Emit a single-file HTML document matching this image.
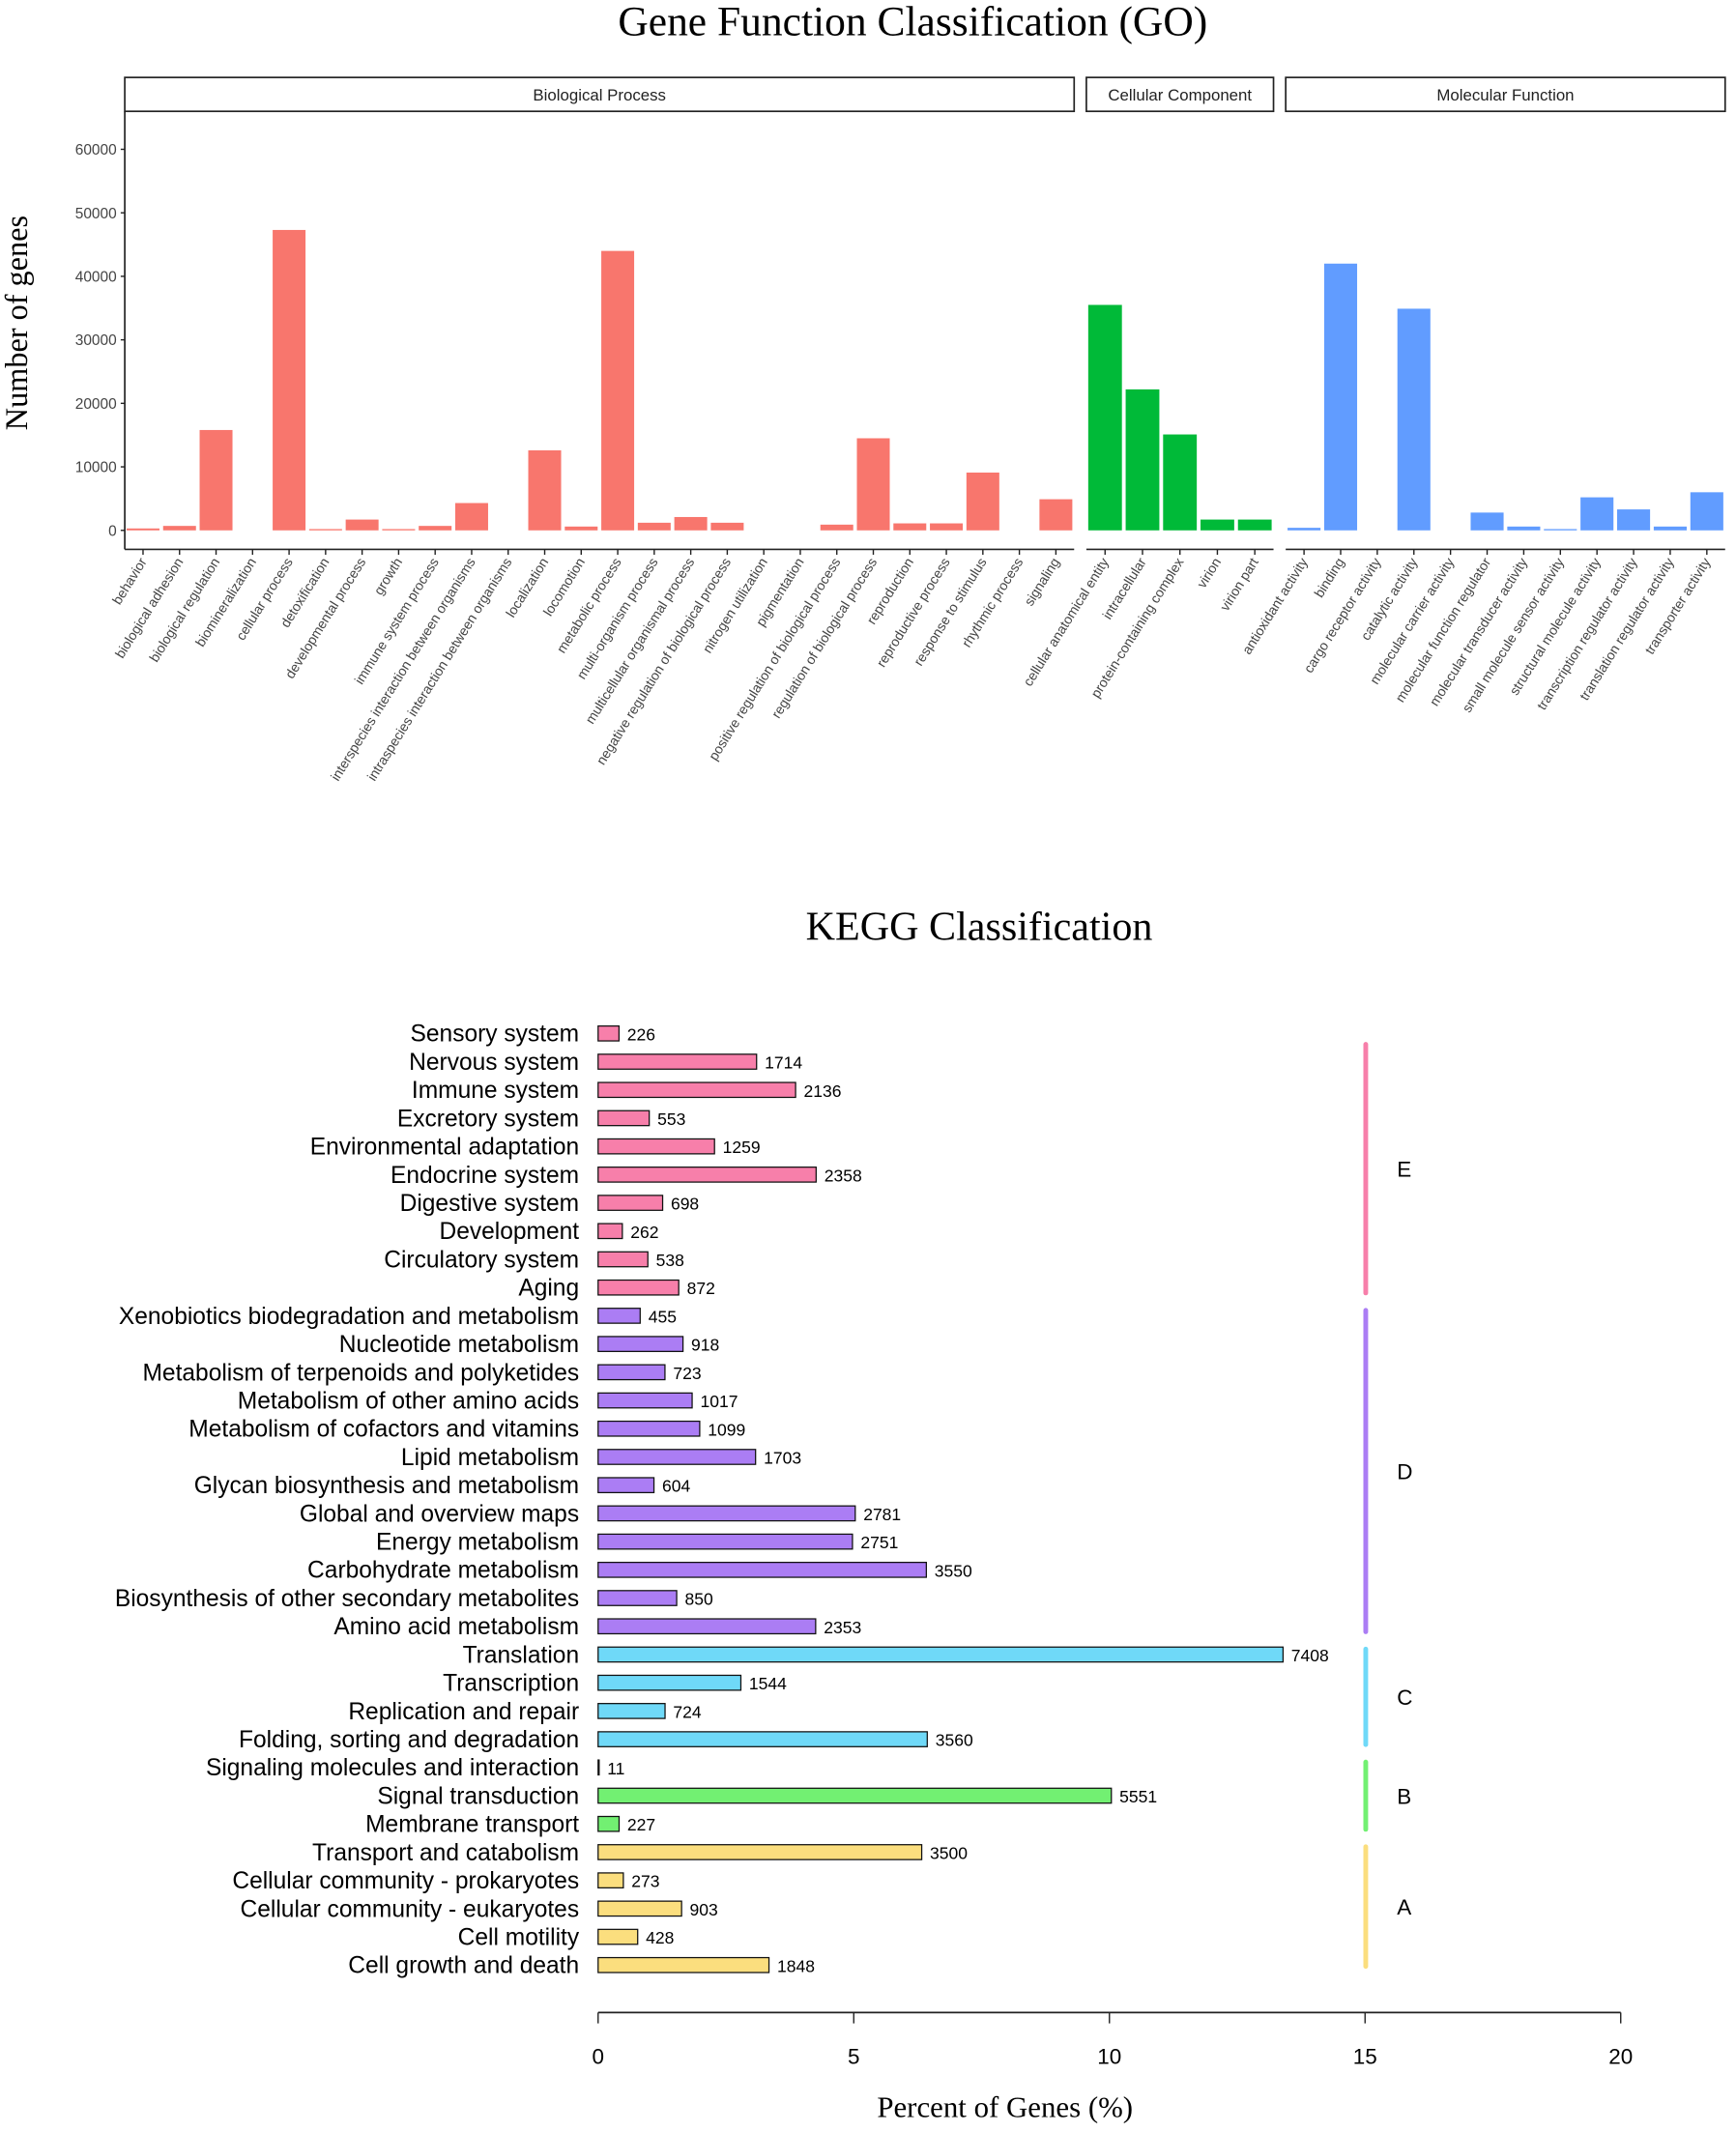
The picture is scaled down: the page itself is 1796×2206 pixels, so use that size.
<!DOCTYPE html>
<html><head><meta charset="utf-8"><style>
html,body{margin:0;padding:0;background:#fff;}
svg{display:block;}
</style></head><body>
<svg id="root" width="1796" height="2206" viewBox="0 0 1280 1572" xmlns="http://www.w3.org/2000/svg">
<g id="go"></g>
<g id="kegg"></g>
</svg>
<script>
// ---------- GO data ----------
const bpCats = ["behavior","biological adhesion","biological regulation","biomineralization","cellular process","detoxification","developmental process","growth","immune system process","interspecies interaction between organisms","intraspecies interaction between organisms","localization","locomotion","metabolic process","multi-organism process","multicellular organismal process","negative regulation of biological process","nitrogen utilization","pigmentation","positive regulation of biological process","regulation of biological process","reproduction","reproductive process","response to stimulus","rhythmic process","signaling"];
const bpVals = [300,700,15800,0,47300,200,1700,200,700,4300,0,12600,600,44000,1200,2100,1200,0,0,900,14500,1100,1100,9100,0,4900];
const ccCats = ["cellular anatomical entity","intracellular","protein-containing complex","virion","virion part"];
const ccVals = [35500,22200,15100,1700,1700];
const mfCats = ["antioxidant activity","binding","cargo receptor activity","catalytic activity","molecular carrier activity","molecular function regulator","molecular transducer activity","small molecule sensor activity","structural molecule activity","transcription regulator activity","translation regulator activity","transporter activity"];
const mfVals = [400,42000,0,34900,0,2800,600,200,5200,3300,600,6000];
const goTicks = [0,10000,20000,30000,40000,50000,60000];

// ---------- KEGG data ----------
const keggCats = ["Sensory system","Nervous system","Immune system","Excretory system","Environmental adaptation","Endocrine system","Digestive system","Development","Circulatory system","Aging","Xenobiotics biodegradation and metabolism","Nucleotide metabolism","Metabolism of terpenoids and polyketides","Metabolism of other amino acids","Metabolism of cofactors and vitamins","Lipid metabolism","Glycan biosynthesis and metabolism","Global and overview maps","Energy metabolism","Carbohydrate metabolism","Biosynthesis of other secondary metabolites","Amino acid metabolism","Translation","Transcription","Replication and repair","Folding, sorting and degradation","Signaling molecules and interaction","Signal transduction","Membrane transport","Transport and catabolism","Cellular community - prokaryotes","Cellular community - eukaryotes","Cell motility","Cell growth and death"];
const keggCounts = [226,1714,2136,553,1259,2358,698,262,538,872,455,918,723,1017,1099,1703,604,2781,2751,3550,850,2353,7408,1544,724,3560,11,5551,227,3500,273,903,428,1848];
const keggGroups = ["E","E","E","E","E","E","E","E","E","E","D","D","D","D","D","D","D","D","D","D","D","D","C","C","C","C","B","B","B","A","A","A","A","A"];
const keggTotal = 55300;
const keggTicks = [0,5,10,15,20];

const NS="http://www.w3.org/2000/svg";
function mk(parent,tag,attrs,text){const e=document.createElementNS(NS,tag);for(const k in attrs)e.setAttribute(k,attrs[k]);if(text!==undefined)e.textContent=text;parent.appendChild(e);return e;}

// ---------- GO ----------
const go=document.getElementById('go');
const yGo=v=>391-v*(281/60000);
let t=mk(go,'text',{x:673,y:26,'text-anchor':'middle','font-family':'Liberation Serif, serif','font-size':31,fill:'#000'},'Gene Function Classification (GO)');

t=mk(go,'text',{x:0,y:0,transform:'translate(20,238) rotate(-90)','text-anchor':'middle','font-family':'Liberation Serif, serif','font-size':23,fill:'#000'},'Number of genes');

let ax=mk(go,'line',{x1:92,y1:82,x2:92,y2:405,stroke:'#222','stroke-width':1.2});

goTicks.forEach(v=>{
  mk(go,'line',{x1:89,x2:92,y1:yGo(v),y2:yGo(v),stroke:'#222'});
  const l=mk(go,'text',{x:86,y:yGo(v)+4,'text-anchor':'end','font-family':'Liberation Sans, sans-serif','font-size':11,fill:'#444'},String(v));
  
});
const panels=[
 {name:'Biological Process',x0:92,x1:792,cats:bpCats,vals:bpVals,color:'#F8766D',key:'bp'},
 {name:'Cellular Component',x0:801,x1:939,cats:ccCats,vals:ccVals,color:'#00BA38',key:'cc'},
 {name:'Molecular Function',x0:948,x1:1272,cats:mfCats,vals:mfVals,color:'#619CFF',key:'mf'}];
panels.forEach(p=>{
  const g=mk(go,'g',{});
  
  const s=mk(g,'rect',{x:p.x0,y:57,width:p.x1-p.x0,height:25,fill:'#fff',stroke:'#222','stroke-width':1.2});
  
  const st=mk(g,'text',{x:(p.x0+p.x1)/2,y:74,'text-anchor':'middle','font-family':'Liberation Sans, sans-serif','font-size':12,fill:'#222'},p.name);
  
  mk(g,'line',{x1:p.x0,x2:p.x1,y1:405,y2:405,stroke:'#222','stroke-width':1.2});
  const bw=(p.x1-p.x0)/p.cats.length;
  p.cats.forEach((c,i)=>{
    const cx=p.x0+bw*(i+0.5);
    const v=p.vals[i];
    if(v>0){
      const r=mk(g,'rect',{x:cx-bw*0.45,y:yGo(v),width:bw*0.9,height:yGo(0)-yGo(v),fill:p.color});
      
    }
    mk(g,'line',{x1:cx,x2:cx,y1:405,y2:409,stroke:'#222'});
    const l=mk(g,'text',{x:0,y:0,transform:`translate(${cx+3},414) rotate(-58)`,'text-anchor':'end','font-family':'Liberation Sans, sans-serif','font-size':10,fill:'#444'},c);
    
  });
});

// ---------- KEGG ----------
const kg=document.getElementById('kegg');
const xK=p=>441+p*(754/20);
const rowY=i=>762+i*(687/33);
const groupColor={E:'#F77FAA',D:'#AB7DF4',C:'#6FD9F8',B:'#72F072',A:'#FBDE7E'};
t=mk(kg,'text',{x:722,y:693,'text-anchor':'middle','font-family':'Liberation Serif, serif','font-size':30,fill:'#000'},'KEGG Classification');

keggCats.forEach((c,i)=>{
  const y=rowY(i);
  const pct=keggCounts[i]/keggTotal*100;
  const l=mk(kg,'text',{x:427,y:y+6,'text-anchor':'end','font-family':'Liberation Sans, sans-serif','font-size':17.5,fill:'#000'},c);
  
  const r=mk(kg,'rect',{x:441,y:y-5.5,width:Math.max(xK(pct)-441,0.5),height:11,fill:groupColor[keggGroups[i]],stroke:'#111','stroke-width':0.9});
  
  const v=mk(kg,'text',{x:xK(pct)+6,y:y+5,'font-family':'Liberation Sans, sans-serif','font-size':12.5,fill:'#000'},String(keggCounts[i]));
  
});
const groupsOrder=["E","D","C","B","A"];
groupsOrder.forEach(gname=>{
  const idx=keggGroups.map((g,i)=>g===gname?i:-1).filter(i=>i>=0);
  const a=idx[0],b=idx[idx.length-1];
  const top=rowY(a)+(a===0?8:-4), bot=rowY(b)+(b===keggCats.length-1?1:4);
  const ln=mk(kg,'line',{x1:1007,x2:1007,y1:top,y2:bot,stroke:groupColor[gname],'stroke-width':3.5,'stroke-linecap':'round'});
  
  const tx=mk(kg,'text',{x:1030,y:(top+bot)/2+6,'font-family':'Liberation Sans, sans-serif','font-size':16,fill:'#000'},gname);
  
});
ax=mk(kg,'line',{x1:441,x2:1195,y1:1484,y2:1484,stroke:'#222','stroke-width':1.2});

keggTicks.forEach(v=>{
  mk(kg,'line',{x1:xK(v),x2:xK(v),y1:1484,y2:1492,stroke:'#222'});
  const l=mk(kg,'text',{x:xK(v),y:1522,'text-anchor':'middle','font-family':'Liberation Sans, sans-serif','font-size':16,fill:'#000'},String(v));
  
});
t=mk(kg,'text',{x:741,y:1561,'text-anchor':'middle','font-family':'Liberation Serif, serif','font-size':22,fill:'#000'},'Percent of Genes (%)');

</script>
</body></html>
